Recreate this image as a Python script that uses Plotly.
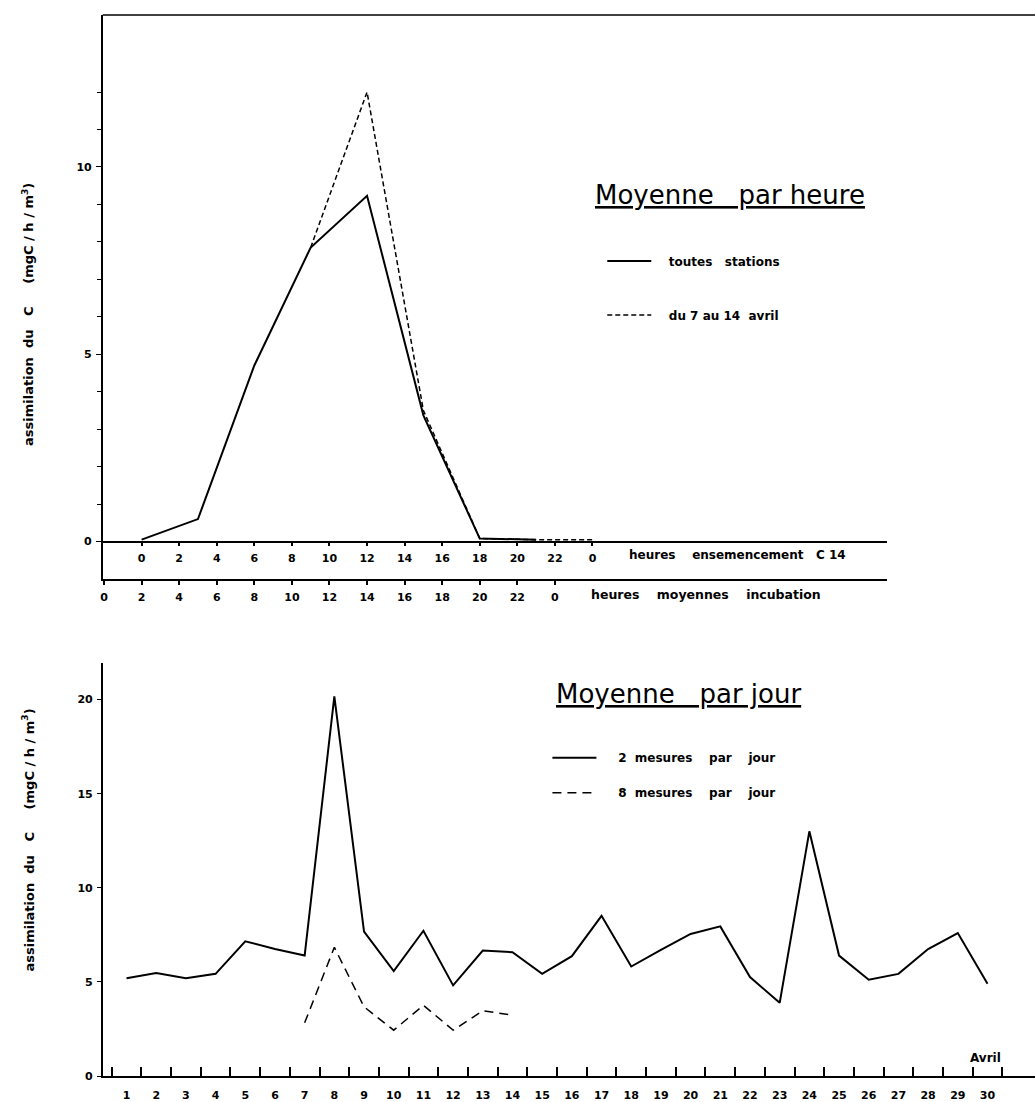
import plotly.graph_objects as go

W, H = 1035, 1102
def px(x): return x / W
def py(y): return 1 - y / H

# ---------------- data : top panel (hourly means) ----------------
hours_sown = [0, 3, 6, 9, 12, 15, 18, 21]
toutes_stations = [0.05, 0.6, 4.7, 7.85, 9.23, 3.37, 0.08, 0.05]
hours_sown_week = [9, 12, 15, 18, 21, 24]
du_7_au_14_avril = [7.85, 12.0, 3.5, 0.08, 0.05, 0.05]

sown_tickvals = list(range(0, 25, 2))
sown_ticktext = ["0", "2", "4", "6", "8", "10", "12", "14", "16", "18", "20", "22", "0"]
incub_tickvals = list(range(-2, 23, 2))
incub_ticktext = ["0", "2", "4", "6", "8", "10", "12", "14", "16", "18", "20", "22", "0"]
top_yticks = [0, 5, 10]
top_yminor = list(range(0, 13))

# ---------------- data : bottom panel (daily means) ----------------
days = list(range(1, 31))
deux_mesures = [5.2, 5.47, 5.2, 5.43, 7.16, 6.75, 6.4, 20.17, 7.67, 5.58,
                7.72, 4.82, 6.67, 6.58, 5.43, 6.37, 8.51, 5.82, 6.7, 7.55,
                7.95, 5.26, 3.89, 13.0, 6.4, 5.12, 5.43, 6.75, 7.6, 4.91]
days_8 = list(range(7, 15))
huit_mesures = [2.83, 6.84, 3.68, 2.44, 3.76, 2.44, 3.47, 3.24]
day_ticktext = [str(d) for d in days]
day_bounds = [d - 0.5 for d in days] + [30.5]
bottom_yticks = [0, 5, 10, 15, 20]

TICKFONT = dict(family="DejaVu Sans", size=11, color="black", weight="bold")
TXT = "DejaVu Sans"
NB = "\u00a0"

fig = go.Figure()

fig.add_trace(go.Scatter(x=hours_sown, y=toutes_stations, mode="lines",
                         line=dict(color="black", width=2),
                         name=NB * 3 + "toutes" + NB * 3 + "stations",
                         xaxis="x", yaxis="y", legend="legend", legendgroup="a"))
fig.add_trace(go.Scatter(x=hours_sown_week, y=du_7_au_14_avril, mode="lines",
                         line=dict(color="black", width=1.5, dash="5px,3px"),
                         name=NB * 3 + "du" + NB + "7" + NB + "au" + NB + "14" + NB * 2 + "avril",
                         xaxis="x3", yaxis="y", legend="legend", legendgroup="b"))
fig.add_trace(go.Scatter(x=days, y=deux_mesures, mode="lines",
                         line=dict(color="black", width=2),
                         name=NB * 4 + "2" + NB * 2 + "mesures" + NB * 4 + "par" + NB * 4 + "jour",
                         xaxis="x2", yaxis="y2", legend="legend2", legendgroup="c"))
fig.add_trace(go.Scatter(x=days_8, y=huit_mesures, mode="lines",
                         line=dict(color="black", width=1.5, dash="9px,6px"),
                         name=NB * 4 + "8" + NB * 2 + "mesures" + NB * 4 + "par" + NB * 4 + "jour",
                         xaxis="x2", yaxis="y2", legend="legend2", legendgroup="d"))

x_top_range = [-2.07, 39.7]
top_dom = [px(100), px(887)]

fig.update_layout(
    width=W, height=H,
    margin=dict(l=0, r=0, t=0, b=0),
    paper_bgcolor="white", plot_bgcolor="white",
    showlegend=True,
    font=dict(family=TXT, color="black"),
    # top panel: incubation hours axis (bottom line)
    xaxis=dict(domain=top_dom, range=x_top_range, anchor="y",
               showline=True, linecolor="black", linewidth=1.5,
               showgrid=False, zeroline=False,
               tickmode="array", tickvals=incub_tickvals, ticktext=incub_ticktext,
               ticks="outside", ticklen=4, tickcolor="black", tickwidth=1.5,
               tickfont=TICKFONT, ticklabelstandoff=3),
    # top panel: sowing hours axis (zero line)
    xaxis3=dict(overlaying="x", anchor="free", position=py(545), side="bottom",
                domain=top_dom, range=x_top_range,
                showline=True, linecolor="black", linewidth=1.5,
                showgrid=False, zeroline=False,
                tickmode="array", tickvals=sown_tickvals, ticktext=sown_ticktext,
                ticks="outside", ticklen=4, tickcolor="black", tickwidth=1.5,
                tickfont=TICKFONT, ticklabelstandoff=3),
    yaxis=dict(domain=[py(583), py(15)], range=[-1.008, 14.06], anchor="x",
               showline=True, linecolor="black", linewidth=1.5,
               showgrid=False, zeroline=False,
               tickmode="array", tickvals=top_yticks,
               ticks="outside", ticklen=5, tickcolor="black", tickwidth=1.2,
               tickfont=TICKFONT, ticklabelstandoff=2,
               minor=dict(tickmode="array", tickvals=top_yminor, ticks="outside",
                          ticklen=4, tickcolor="black", tickwidth=1.2, showgrid=False)),
    # bottom panel
    xaxis2=dict(domain=[px(100), 1.0], range=[0.198, 31.6], anchor="y2",
                showline=True, linecolor="black", linewidth=1.5,
                showgrid=False, zeroline=False,
                tickmode="array", tickvals=days, ticktext=day_ticktext,
                ticks="", tickfont=TICKFONT, ticklabelstandoff=8,
                minor=dict(tickmode="array", tickvals=day_bounds, ticks="inside",
                           ticklen=9, tickcolor="black", tickwidth=1.5, showgrid=False)),
    yaxis2=dict(domain=[py(1083), py(667)], range=[0, 21.95], anchor="x2",
                showline=True, linecolor="black", linewidth=1.5,
                showgrid=False, zeroline=False,
                tickmode="array", tickvals=bottom_yticks,
                ticks="outside", ticklen=4, tickcolor="black", tickwidth=1.2,
                tickfont=TICKFONT, ticklabelstandoff=2),
    legend=dict(x=px(601), y=py(248), xanchor="left", yanchor="top",
                bgcolor="rgba(0,0,0,0)", borderwidth=0,
                traceorder="grouped", tracegroupgap=35, itemwidth=44,
                font=dict(family=TXT, size=12, color="black", weight="bold"),
                itemclick=False, itemdoubleclick=False),
    legend2=dict(x=px(546), y=py(748), xanchor="left", yanchor="top",
                 bgcolor="rgba(0,0,0,0)", borderwidth=0,
                 traceorder="grouped", tracegroupgap=16, itemwidth=44,
                 font=dict(family=TXT, size=12, color="black", weight="bold"),
                 itemclick=False, itemdoubleclick=False),
)

# frame line at top of the upper panel
fig.add_shape(type="line", xref="paper", yref="paper",
              x0=px(100), x1=1.0, y0=py(15), y1=py(15),
              line=dict(color="black", width=1.5))

ann = []
ann.append(dict(text="<u>Moyenne" + NB * 3 + "par" + NB + "heure</u>", x=px(592), y=py(196),
                xanchor="left", yanchor="middle", font=dict(family=TXT, size=26)))
ann.append(dict(text="<u>Moyenne" + NB * 3 + "par" + NB + "jour</u>", x=px(553), y=py(698),
                xanchor="left", yanchor="middle", font=dict(family=TXT, size=26)))
ann.append(dict(text="heures" + NB * 4 + "ensemencement" + NB * 3 + "C" + NB + "14", x=px(626), y=py(559),
                xanchor="left", yanchor="middle",
                font=dict(family=TXT, size=12, weight="bold")))
ann.append(dict(text="heures" + NB * 4 + "moyennes" + NB * 4 + "incubation", x=px(588), y=py(598),
                xanchor="left", yanchor="middle",
                font=dict(family=TXT, size=12.5, weight="bold")))
ann.append(dict(text="Avril", x=px(985), y=py(1065), xanchor="center", yanchor="middle",
                font=dict(family=TXT, size=12, weight="bold")))
ytitle = "assimilation" + NB * 2 + "du" + NB * 3 + "C" + NB * 5 + "(mgC" + NB + "/" + NB + "h" + NB + "/" + NB + "m<sup>3</sup>)"
ann.append(dict(text=ytitle, x=px(25), y=py(316), textangle=-90,
                xanchor="center", yanchor="middle", font=dict(family=TXT, size=13, weight="bold")))
ann.append(dict(text=ytitle, x=px(25), y=py(845), textangle=-90,
                xanchor="center", yanchor="middle", font=dict(family=TXT, size=13, weight="bold")))
for a in ann:
    a.update(xref="paper", yref="paper", showarrow=False)
fig.update_layout(annotations=ann)

fig.write_html("out.html")
